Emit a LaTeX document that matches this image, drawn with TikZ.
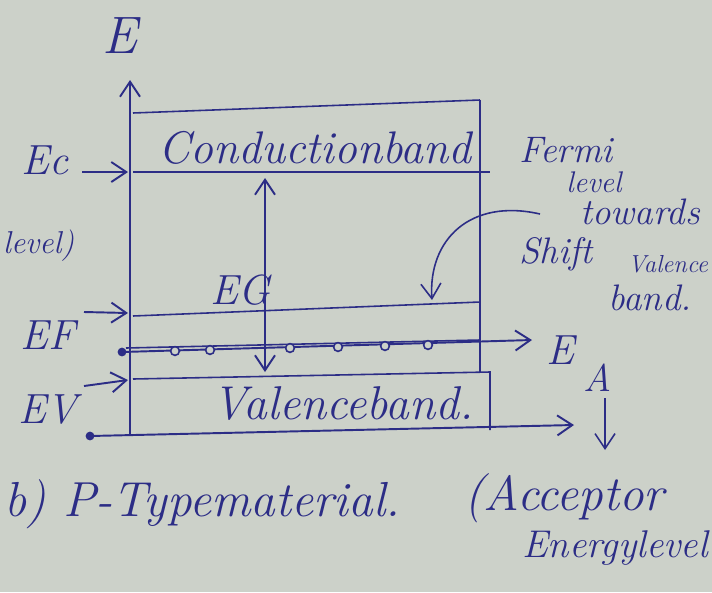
\documentclass[tikz,border=0pt]{standalone}
\usepackage{xcolor}
\usetikzlibrary{positioning,arrows.meta,calc}

\definecolor{paper}{HTML}{CCD1C9}
\definecolor{ink}{HTML}{2C2D86}

\begin{document}
\begin{tikzpicture}[x=0.02cm, y=-0.02cm,
  band/.style={draw=ink, line width=0.9pt},
  arrow/.style={-{Straight Barb[length=3mm,width=4mm]}, draw=ink, line width=1.1pt},
  twoway/.style={{Straight Barb[length=3mm,width=4mm]}-{Straight Barb[length=3mm,width=4mm]}, draw=ink, line width=1.1pt},
  hand/.style={text=ink, font=\itshape\fontsize{24}{26}\selectfont, inner sep=1pt},
  note/.style={text=ink, font=\itshape\fontsize{21}{23}\selectfont, inner sep=1pt},
  hole/.style={circle, draw=ink, line width=0.9pt, fill=paper, inner sep=0pt, minimum size=5pt}
]
  % paper
  \fill[paper] (0,0) rectangle (712,592);
  \useasboundingbox (0,0) rectangle (712,592);

  % axes
  \coordinate (origin) at (130,434);
  \coordinate (etop) at (130,80);
  \coordinate (xstart) at (90,436);
  \coordinate (xend) at (574,425);
  \draw[arrow] (origin) -- (etop);
  \draw[arrow] (xstart) -- (xend);
  \fill[ink] (xstart) circle (2.5pt);
  \node[hand, font=\itshape\fontsize{30}{32}\selectfont] (elabel) at (120,36) {E};

  % conduction band
  \coordinate (cbtl) at (133,113);
  \coordinate (cbtr) at (480,100);
  \coordinate (cbbl) at (133,172);
  \coordinate (cbbr) at (490,172);
  \draw[band] (cbtl) -- (cbtr);
  \draw[band] (cbbl) -- (cbbr);
  \node[hand, font=\itshape\fontsize{26}{28}\selectfont] (cband) at (315,148) {Conductionband};

  % fermi level and valence band
  \coordinate (efl) at (133,316);
  \coordinate (efr) at (480,302);
  \coordinate (vbl) at (133,379);
  \coordinate (vbr) at (490,372);
  \coordinate (vbcorner) at (490,430);
  \draw[band] (efl) -- (efr);
  \draw[band] (vbl) -- (vbr) -- (vbcorner);
  \draw[band, line width=1.1pt] (cbtr) -- (480,372);
  \node[hand, font=\itshape\fontsize{27}{29}\selectfont] (vband) at (343,404) {Valenceband.};

  % acceptor level
  \coordinate (eal) at (122,352);
  \coordinate (ear) at (532,340);
  \draw[arrow] (eal) -- (ear);
  \draw[band] (126,348) -- (480,340);
  \fill[ink] (eal) circle (2.5pt);
  \foreach \x/\y in {175/351, 210/350, 290/348, 338/347, 385/346, 428/345}
    \node[hole] at (\x,\y) {};
  \node[hand] (ea) at (560,350) {E};
  \node[hand, font=\itshape\fontsize{22}{24}\selectfont] (easub) at (598,378) {A};
  \coordinate (eadown1) at (605,398);
  \coordinate (eadown2) at (605,450);
  \draw[arrow, line width=0.9pt] (eadown1) -- (eadown2);

  % band gap
  \coordinate (eglow) at (265,372);
  \coordinate (eghigh) at (265,178);
  \draw[twoway] (eglow) -- (eghigh);
  \node[hand] (eg) at (240,290) {EG};

  % level arrows
  \node[hand] (ec) at (45,160) {Ec};
  \node[hand] (ef) at (48,335) {EF};
  \node[hand] (ev) at (48,410) {EV};
  \coordinate (ectail) at (82,172);
  \coordinate (ectip) at (128,172);
  \coordinate (eftail) at (84,312);
  \coordinate (eftip) at (128,313);
  \coordinate (evtail) at (84,386);
  \coordinate (evtip) at (128,380);
  \draw[arrow] (ectail) -- (ectip);
  \draw[arrow] (eftail) -- (eftip);
  \draw[arrow] (evtail) -- (evtip);

  % note on fermi level shift
  \node[note] (fermi) at (566,150) {Fermi};
  \node[note, font=\itshape\fontsize{17}{19}\selectfont] (lvl) at (594,182) {level};
  \node[note] (towards) at (640,212) {towards};
  \node[note] (shift) at (556,254) {Shift};
  \node[note, font=\itshape\fontsize{14}{16}\selectfont, anchor=east] (valence) at (710,264) {Valence};
  \node[note] (bandnote) at (650,298) {band.};
  \coordinate (curvestart) at (540,214);
  \coordinate (curveend) at (432,300);
  \draw[arrow, line width=0.9pt] (curvestart) .. controls (470,198) and (428,240) .. (curveend);

  % captions at the page edges
  \node[hand, font=\itshape\fontsize{18}{20}\selectfont, anchor=west] (leftnote) at (1,246) {level)};
  \node[hand, font=\itshape\fontsize{28}{30}\selectfont, anchor=west] (caption) at (2,504) {b) P-Typematerial.};
  \node[hand, font=\itshape\fontsize{28}{30}\selectfont, anchor=west] (acceptor) at (462,498) {(Acceptor};
  \node[hand, font=\itshape\fontsize{22}{24}\selectfont, anchor=east] (energy) at (710,548) {Energylevel};
\end{tikzpicture}
\end{document}
